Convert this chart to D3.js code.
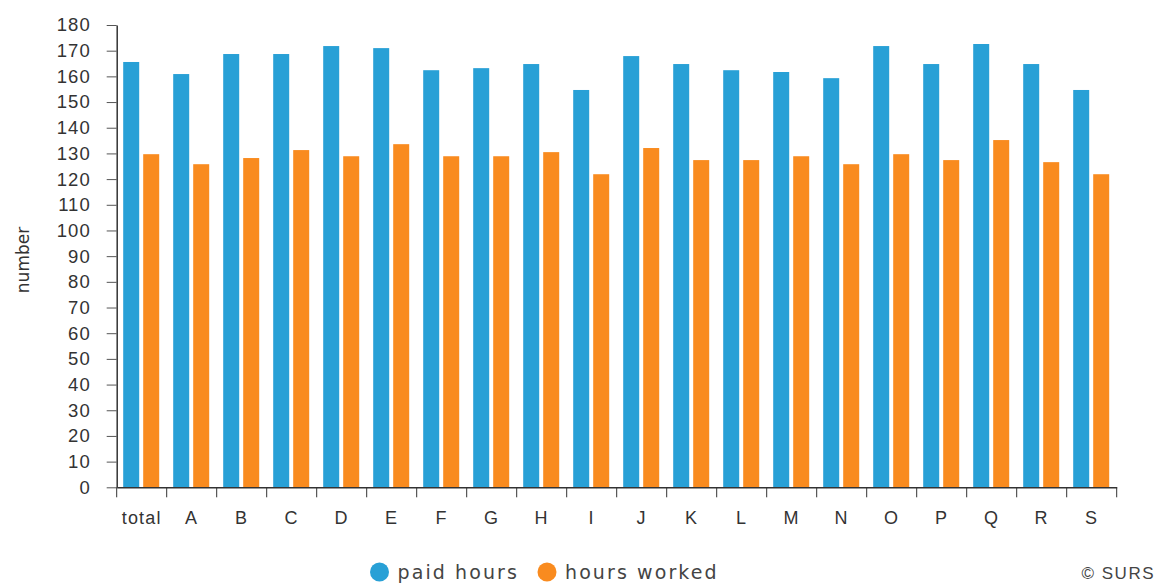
<!DOCTYPE html>
<html>
<head>
<meta charset="utf-8">
<script src="https://d3js.org/d3.v7.min.js"></script>
<style>
  body { margin: 0; background: #fff; }
  .tick text { fill: #333; }
</style>
</head>
<body>
<div id="chart"></div>
<script>
// data
var categories = ["total", "A", "B", "C", "D", "E", "F", "G", "H", "I", "J", "K", "L", "M", "N", "O", "P", "Q", "R", "S"];
var paidHours = [165.6, 160.9, 168.7, 168.7, 171.8, 171.0, 162.4, 163.2, 164.8, 154.7, 167.9, 164.8, 162.4, 161.7, 159.3, 171.8, 164.8, 172.6, 164.8, 154.7];
var hoursWorked = [129.7, 125.8, 128.2, 131.3, 128.9, 133.6, 128.9, 128.9, 130.5, 121.9, 132.1, 127.4, 127.4, 128.9, 125.8, 129.7, 127.4, 135.2, 126.6, 121.9];
var seriesNames = ["paid hours", "hours worked"];
var seriesColors = ["#28a0d6", "#f98b1f"];
var yTicks = d3.range(0, 181, 10);

var width = 1161,
  height = 584;
var margin = { top: 25, right: 44.3, bottom: 96.7, left: 116.7 };

var svg = d3.select("#chart")
  .append("svg")
  .attr("width", width)
  .attr("height", height);

var x = d3.scaleBand()
  .domain(categories)
  .range([margin.left, width - margin.right])
  .paddingInner(0)
  .paddingOuter(0);

var xInner = d3.scaleBand()
  .domain(seriesNames)
  .range([6.5, 42.5])
  .paddingInner(0.2);

var y = d3.scaleLinear()
  .domain([0, 180])
  .range([height - margin.bottom, margin.top]);

var color = d3.scaleOrdinal()
  .domain(seriesNames)
  .range(seriesColors);

// bars
var rows = categories.map(function(c, i) {
  return { cat: c, values: [paidHours[i], hoursWorked[i]] };
});

var groups = svg.append("g")
  .selectAll("g")
  .data(rows)
  .enter().append("g")
  .attr("transform", function(d) { return "translate(" + x(d.cat) + ",0)"; });

groups.selectAll("rect")
  .data(function(d) {
    return d.values.map(function(v, j) { return { key: seriesNames[j], value: v }; });
  })
  .enter().append("rect")
  .attr("x", function(d) { return xInner(d.key); })
  .attr("width", xInner.bandwidth())
  .attr("y", function(d) { return y(d.value); })
  .attr("height", function(d) { return y(0) - y(d.value); })
  .attr("fill", function(d) { return color(d.key); });

// y axis
var yAxis = svg.append("g")
  .attr("transform", "translate(" + margin.left + ",0)")
  .call(d3.axisLeft(y).tickValues(yTicks).tickSize(10).tickPadding(16).tickSizeOuter(0));

yAxis.selectAll("text")
  .style("font-family", "'Liberation Sans', Arial, sans-serif")
  .style("font-size", "18.5px")
  .style("letter-spacing", "1px");

// x axis
var xAxis = svg.append("g")
  .attr("transform", "translate(0," + y(0) + ")")
  .call(d3.axisBottom(x).tickSize(0).tickPadding(24).tickSizeOuter(0));

xAxis.selectAll("text")
  .style("font-family", "'Liberation Sans', Arial, sans-serif")
  .style("font-size", "18px")
  .style("letter-spacing", "1.2px");

// boundary ticks on the x axis
var bounds = categories.map(function(c) { return x(c); }).concat([x.range()[1]]);
xAxis.selectAll(".bound")
  .data(bounds)
  .enter().append("line")
  .attr("class", "bound")
  .attr("x1", function(d) { return d; })
  .attr("x2", function(d) { return d; })
  .attr("y1", 0)
  .attr("y2", 10)
  .attr("stroke", "#333");

svg.selectAll(".domain").attr("stroke", "#333").attr("stroke-width", 1.5);
svg.selectAll(".tick line").attr("stroke", "#555");

// y axis title
svg.append("text")
  .attr("transform", "translate(29," + 260 + ") rotate(-90)")
  .attr("text-anchor", "middle")
  .style("font-family", "'DejaVu Sans', sans-serif")
  .style("font-size", "17px")
  .style("fill", "#333")
  .text("number");

// legend
var legendX = [379.5, 547];
var legend = svg.append("g")
  .selectAll("g")
  .data(seriesNames)
  .enter().append("g")
  .attr("transform", function(d, i) { return "translate(" + legendX[i] + ",572)"; });

legend.append("circle")
  .attr("r", 9.5)
  .attr("fill", function(d) { return color(d); });

legend.append("text")
  .attr("x", 18)
  .attr("y", 6.5)
  .style("font-family", "'DejaVu Sans', sans-serif")
  .style("font-size", "19px")
  .style("letter-spacing", "2.1px")
  .style("fill", "#444")
  .text(function(d) { return d; });

// credit
svg.append("text")
  .attr("x", 1155)
  .attr("y", 579)
  .attr("text-anchor", "end")
  .style("font-family", "'Liberation Sans', Arial, sans-serif")
  .style("font-size", "17px")
  .style("letter-spacing", "1.5px")
  .style("fill", "#444")
  .text("\u00a9 SURS");
</script>
</body>
</html>
